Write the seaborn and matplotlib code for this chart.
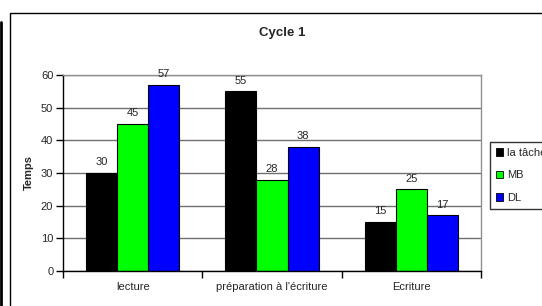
import matplotlib

matplotlib.use("Agg")
import matplotlib.pyplot as plt
import pandas as pd
import seaborn as sns
from matplotlib.lines import Line2D
from matplotlib.patches import Patch


TITLE = "Cycle 1"
Y_LABEL = "Temps"
CATEGORIES = ["lecture", "préparation à l'écriture", "Ecriture"]
SERIES = ["la tâche", "MB", "DL"]
TACHE = [30, 55, 15]
MB = [45, 28, 25]
DL = [57, 38, 17]
COLORS = ["#000000", "#00FF00", "#0000FF"]
Y_TICKS = [0, 10, 20, 30, 40, 50, 60]


def build_frame() -> pd.DataFrame:
    rows = []
    for name, values in zip(SERIES, [TACHE, MB, DL]):
        for category, value in zip(CATEGORIES, values):
            rows.append({"categorie": category, "serie": name, "temps": value})
    return pd.DataFrame(rows)


def main() -> None:
    sns.set_style("white")
    plt.rcParams["font.family"] = ["Liberation Sans", "DejaVu Sans"]

    df = build_frame()

    fig = plt.figure(figsize=(5.42, 3.06), dpi=100)
    ax = fig.add_axes([63 / 542, 35 / 306, 418 / 542, 196 / 306])

    sns.barplot(
        data=df,
        x="categorie",
        y="temps",
        hue="serie",
        order=CATEGORIES,
        hue_order=SERIES,
        palette=COLORS,
        width=0.67,
        edgecolor="black",
        linewidth=0.8,
        saturation=1,
        legend=False,
        ax=ax,
    )

    for container in ax.containers:
        ax.bar_label(container, padding=4, fontsize=8)

    ax.set_ylim(0, 60)
    ax.set_xlim(-0.5, 2.5)
    ax.set_yticks(Y_TICKS)
    ax.yaxis.grid(True, color="#707070", linewidth=1)
    ax.set_axisbelow(True)

    ax.set_xticks(range(len(CATEGORIES)))
    ax.set_xticklabels(CATEGORIES, fontsize=8)
    ax.set_xticks([-0.5, 0.5, 1.5, 2.5], minor=True)
    ax.tick_params(axis="x", which="major", length=0, pad=8)
    ax.tick_params(axis="x", which="minor", length=5, width=1, direction="out", color="black", bottom=True)
    ax.tick_params(axis="y", length=5, width=1, direction="out", color="black", labelsize=8, pad=2, left=True)

    ax.set_xlabel("")
    ax.set_ylabel(Y_LABEL, fontsize=8, fontweight="bold", labelpad=5)

    for side in ["left", "bottom"]:
        ax.spines[side].set_color("black")
        ax.spines[side].set_linewidth(1)
    for side in ["top", "right"]:
        ax.spines[side].set_color("#909090")
        ax.spines[side].set_linewidth(1)

    fig.text(282 / 542, 1 - 33 / 306, TITLE, ha="center", va="center", fontsize=9.5, fontweight="bold")

    # legend sits partly outside the canvas, as in the original
    handles = [
        Patch(facecolor=color, edgecolor="black", linewidth=0.6, label=name)
        for color, name in zip(COLORS, SERIES)
    ]
    legend = fig.legend(
        handles=handles,
        loc="upper left",
        bbox_to_anchor=(490 / 542, 1 - 142 / 306),
        fontsize=8,
        frameon=True,
        fancybox=False,
        handlelength=0.7,
        handleheight=0.7,
        handletextpad=0.3,
        labelspacing=1.15,
        borderpad=0.5,
        borderaxespad=0,
    )
    legend.get_frame().set_edgecolor("black")
    legend.get_frame().set_linewidth(1)

    fig.add_artist(
        plt.Rectangle(
            (10 / 542, -0.1),
            1.0,
            1.1 - 13 / 306,
            transform=fig.transFigure,
            fill=False,
            edgecolor="black",
            linewidth=1,
        )
    )
    fig.add_artist(
        Line2D([1.2 / 542, 1.2 / 542], [0, 1 - 22 / 306], transform=fig.transFigure, color="black", linewidth=2)
    )

    fig.savefig("out.png", dpi=100)
    plt.close(fig)


if __name__ == "__main__":
    main()
